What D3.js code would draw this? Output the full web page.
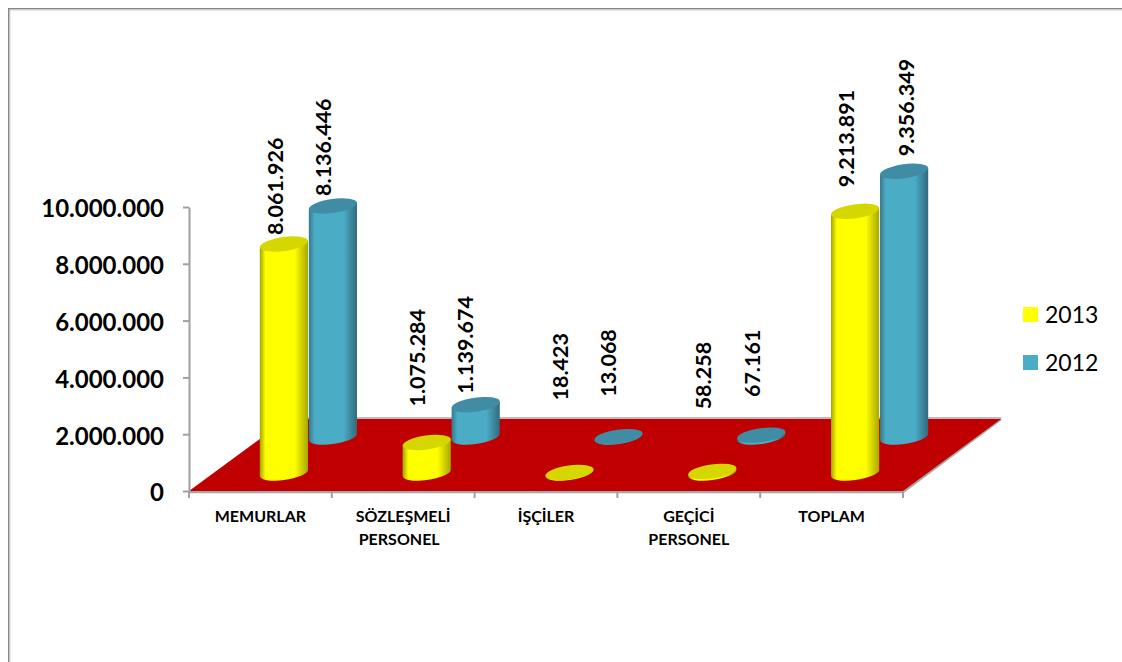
<!DOCTYPE html>
<html><head><meta charset="utf-8">
<script src="https://cdnjs.cloudflare.com/ajax/libs/d3/7.8.5/d3.min.js"></script>
<style>html,body{margin:0;background:#fff}svg{display:block}text{font-family:Lato,"Open Sans",sans-serif;fill:#000}</style>
</head><body><svg id="c" width="1122" height="662"></svg>
<script>
const categories = [["MEMURLAR"],["SÖZLEŞMELİ","PERSONEL"],["İŞÇİLER"],["GEÇİCİ","PERSONEL"],["TOPLAM"]];
const seriesNames = ["2013","2012"];
const values2013 = [8061926,1075284,18423,58258,9213891];
const values2012 = [8136446,1139674,13068,67161,9356349];
const yTicks = [0,2000000,4000000,6000000,8000000,10000000];
// label placement: gap above the bar top, and sideways shift from bar centre
const labelGap = {"2013":[9,36,72,62,24],"2012":[10,11,40,38,15]};
const labelShift = {"2013":[-8,-9,-9,-9,-9],"2012":[-9,-10,-10,-9,2]};

const svg = d3.select("#c");
const fmt = d3.formatLocale({decimal:",",thousands:".",grouping:[3],currency:["",""]}).format(",d");
const L=189,R=903,B=491,T=207,DX=98,DY=72;
const x = d3.scaleBand().domain(d3.range(categories.length)).range([L,R]);
const y = d3.scaleLinear().domain([0,10000000]).range([B,T]);
const depth = d3.scaleBand().domain(seriesNames).range([0,1]);
const colors = {"2013":{main:"#ffff00",top:"#d6d600",l:"#a3a300",r:"#a8a800"},
                "2012":{main:"#4bacc6",top:"#3f8ca4",l:"#37788c",r:"#306a7e"}};

const defs = svg.append("defs");
seriesNames.forEach(s=>{
  const c=colors[s];
  const g=defs.append("linearGradient").attr("id","g"+s);
  [[0,c.l],[.12,c.main],[.72,c.main],[1,c.r]].forEach(([o,k])=>g.append("stop").attr("offset",o).attr("stop-color",k));
});

// frame
svg.append("path").attr("d","M8.75,662V8.75H1122").attr("fill","none").attr("stroke","#868686").attr("stroke-width",1.5);
svg.append("path").attr("d","M10,662V10H1122").attr("fill","none").attr("stroke","#d0d0d0").attr("stroke-width",1);

// floor
const floor=[[L,B],[R,B],[R+DX,B-DY],[L+DX,B-DY]];
svg.append("path").attr("d",`M${L},${B+1}L${R},${B+1}L${R+DX},${B-DY}`).attr("fill","none").attr("stroke","#a6a6a6").attr("stroke-width",2.5);
svg.append("path").attr("d",`M${L+DX},${B-DY-1}L${R+DX},${B-DY-1}`).attr("fill","none").attr("stroke","#a6a6a6").attr("stroke-width",1.5);
svg.append("path").attr("d",d3.line()(floor)+"Z").attr("fill","#c00000");

// y axis
const yAxis = svg.append("g").attr("transform",`translate(${L},0)`)
  .call(d3.axisLeft(y).tickValues(yTicks).tickFormat(fmt).tickSize(6).tickSizeOuter(0));
yAxis.selectAll("path,line").attr("stroke","#a0a0a0").attr("stroke-width",2);
yAxis.selectAll("text").attr("font-size",24).attr("font-weight",700).attr("x",-25).attr("y",1.5).attr("dy","0.35em").attr("fill","#000");

// x axis ticks and labels
const xTickVals=d3.range(categories.length+1).map(i=>L+i*x.step());
svg.append("g").selectAll("line").data(xTickVals).join("line")
  .attr("x1",d=>d).attr("x2",d=>d).attr("y1",B).attr("y2",B+7).attr("stroke","#a0a0a0").attr("stroke-width",2);
const cat=svg.append("g").selectAll("text").data(categories).join("text")
  .attr("text-anchor","middle").attr("font-size",16).attr("font-weight",700);
cat.each(function(lines,i){
  const t=d3.select(this);
  lines.forEach((ln,j)=>t.append("tspan").attr("x",x(i)+x.bandwidth()/2-(j==1&&i==1?4:0)).attr("y",522+j*23).text(ln));
});

// cylinders
const a=24.3,b=7,phi=-8*Math.PI/180;
const W=Math.sqrt(a*a*Math.cos(phi)**2+b*b*Math.sin(phi)**2);
const ey=(a*a-b*b)*Math.sin(phi)*Math.cos(phi)/W;
const deg=phi*180/Math.PI;
[["2012",values2012],["2013",values2013]].forEach(([s,vals])=>{
  const d=depth(s)+depth.bandwidth()/2, c=colors[s];
  const g=svg.append("g");
  vals.forEach((v,i)=>{
    const cx=x(i)+x.bandwidth()/2+d*DX-1, by=B-d*DY, ty=by-(B-y(v));
    g.append("path").attr("fill",`url(#g${s})`)
      .attr("d",`M${cx-W},${ty-ey}L${cx-W},${by-ey}A${a},${b} ${deg} 0 0 ${cx+W},${by+ey}L${cx+W},${ty+ey}Z`);
    g.append("ellipse").attr("cx",0).attr("cy",0).attr("rx",a).attr("ry",b)
      .attr("transform",`translate(${cx},${ty}) rotate(${deg})`).attr("fill",c.top);
    svg.append("text").attr("class","lab")
      .attr("transform",`translate(${cx+labelShift[s][i]},${ty-labelGap[s][i]}) rotate(-90)`)
      .attr("dy","0.35em").attr("font-size",21.5).attr("font-weight",700).text(fmt(v));
  });
});
svg.selectAll("text.lab").raise();

// legend
const leg=svg.append("g").selectAll("g").data(seriesNames).join("g")
  .attr("transform",(d,i)=>`translate(1023,${307+i*48})`);
leg.append("rect").attr("width",15).attr("height",15).attr("fill",d=>colors[d].main);
leg.append("text").attr("x",22).attr("y",7.5).attr("dy","0.35em").attr("font-size",23).text(d=>d);
</script></body></html>
